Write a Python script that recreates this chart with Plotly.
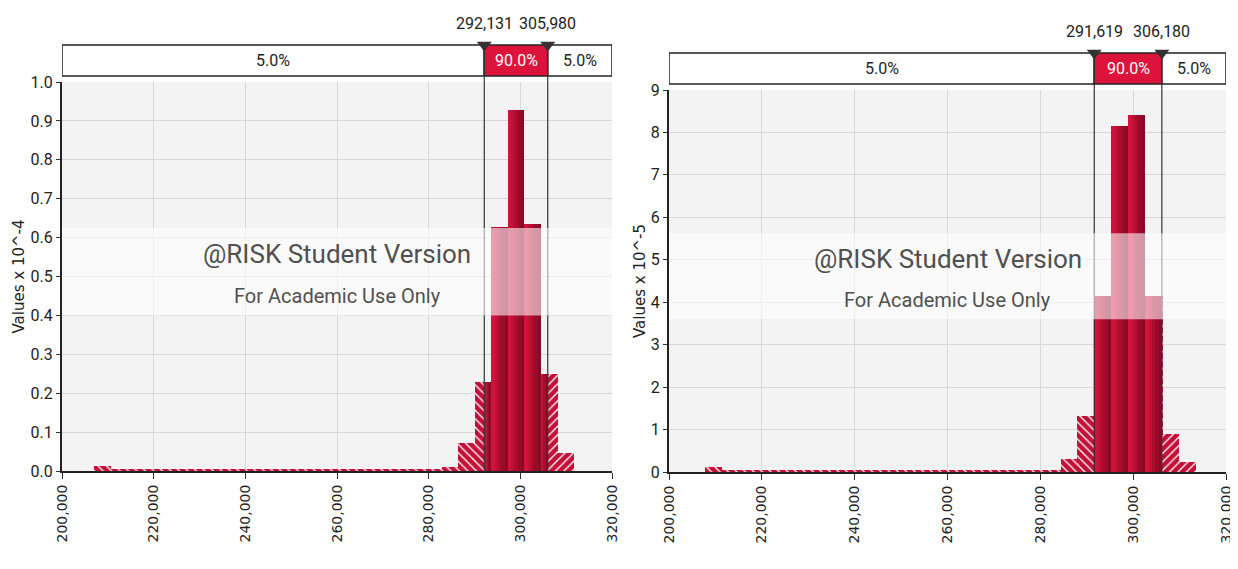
import plotly.graph_objects as go

# ---------------- data ----------------
x_ticks = [200000, 220000, 240000, 260000, 280000, 300000, 320000]

# left histogram (density, values x 10^-4)
left_bin_start = 207030
left_bin_width = 3610
left_density = [0.012, 0.004, 0.004, 0.004, 0.004, 0.004, 0.004, 0.004, 0.004, 0.004,
                0.004, 0.004, 0.004, 0.004, 0.004, 0.004, 0.004, 0.004, 0.004, 0.004,
                0.004, 0.010, 0.072, 0.230, 0.626, 0.928, 0.635, 0.250, 0.046]
left_p5, left_p95 = 292131, 305980
left_y_ticks = [0.0, 0.1, 0.2, 0.3, 0.4, 0.5, 0.6, 0.7, 0.8, 0.9, 1.0]

# right histogram (density, values x 10^-5)
right_bin_start = 207700
right_bin_width = 3650
right_density = [0.11, 0.05, 0.05, 0.05, 0.05, 0.05, 0.05, 0.05, 0.05, 0.05,
                 0.05, 0.05, 0.05, 0.05, 0.05, 0.05, 0.05, 0.05, 0.05, 0.05,
                 0.05, 0.31, 1.32, 4.15, 8.16, 8.40, 4.15, 0.90, 0.23]
right_p5, right_p95 = 291619, 306180
right_y_ticks = [0, 1, 2, 3, 4, 5, 6, 7, 8, 9]

pct_labels = ["5.0%", "90.0%", "5.0%"]

# ---------------- styling ----------------
W, H = 1238, 569
OFF = 8  # default page margin of the html body
NARROW = "Roboto, Liberation Sans, sans-serif"
WIDE = "DejaVu Sans, Verdana, sans-serif"
RED = "#dc143c"
HATCH_RED = "#c41038"
GRAD = ["#d0123c", "#c01034", "#aa0d2e", "#980b29", "#880a24"]

panels = [
    dict(xa="x", ya="y", xb="x3", ba="y3", start=left_bin_start, width=left_bin_width,
         dens=left_density, p5=left_p5, p95=left_p95, yticks=left_y_ticks,
         ymax=1.0, yfmt=".1f", title="Values x 10^-4",
         px=(62, 612), py=(82, 471), box=(45, 76)),
    dict(xa="x2", ya="y2", xb="x4", ba="y4", start=right_bin_start,
         width=right_bin_width,
         dens=right_density, p5=right_p5, p95=right_p95, yticks=right_y_ticks,
         ymax=9, yfmt="d", title="Values x 10^-5",
         px=(669, 1226), py=(90, 472), box=(53, 84)),
]

fig = go.Figure()
shapes, annotations = [], []
layout_axes = {}


def pdom(px):
    return [(px[0] - OFF) / W, (px[1] - OFF) / W]


def py2paper(y):
    return 1 - (y - OFF) / H


def ydom(py):
    return [py2paper(py[1]), py2paper(py[0])]


for k, p in enumerate(panels):
    edges = [p["start"] + p["width"] * i for i in range(len(p["dens"]) + 1)]
    hl, sol, hr = [], [], []
    for i, d in enumerate(p["dens"]):
        a, b = edges[i], edges[i + 1]
        if a < p["p5"]:
            hl.append((a, min(b, p["p5"]), d))
        lo, hi = max(a, p["p5"]), min(b, p["p95"])
        if hi > lo:
            sol.append((lo, hi, d))
        if b > p["p95"]:
            hr.append((max(a, p["p95"]), b, d))

    # hatched tails
    for segs, shp in ((hl, "\\"), (hr, "/")):
        fig.add_trace(go.Bar(
            x=[(a + b) / 2 for a, b, d in segs], y=[d for a, b, d in segs],
            width=[b - a for a, b, d in segs],
            marker=dict(color=HATCH_RED, line=dict(width=0),
                        pattern=dict(shape=shp, fgcolor="white", bgcolor=HATCH_RED,
                                     size=6, solidity=0.22, fillmode="replace")),
            xaxis=p["xa"], yaxis=p["ya"], showlegend=False, hoverinfo="skip"))
    # solid center with left-to-right shading
    n = len(GRAD)
    for j, c in enumerate(GRAD):
        xs, ys, ws = [], [], []
        for a, b, d in sol:
            w = (b - a) / n
            xs.append(a + w * (j + 0.5))
            ys.append(d)
            ws.append(w)
        fig.add_trace(go.Bar(x=xs, y=ys, width=ws,
                             marker=dict(color=c, line=dict(width=0)),
                             xaxis=p["xa"], yaxis=p["ya"], showlegend=False,
                             hoverinfo="skip"))

    # triangles on the percentile bar
    fig.add_trace(go.Scatter(
        x=[p["p5"], p["p95"]], y=[1.0, 1.0], mode="markers",
        marker=dict(symbol="triangle-down", size=13, color="#333333",
                    line=dict(width=0)),
        xaxis=p["xb"], yaxis=p["ba"], showlegend=False, hoverinfo="skip",
        cliponaxis=False))

    xname = "xaxis" if k == 0 else "xaxis2"
    yname = "yaxis" if k == 0 else "yaxis2"
    xbname = "xaxis3" if k == 0 else "xaxis4"
    bname = "yaxis3" if k == 0 else "yaxis4"
    layout_axes[xname] = dict(
        domain=pdom(p["px"]), anchor=p["ya"], range=[x_ticks[0], x_ticks[-1]],
        tickvals=x_ticks, ticktext=[f"{v:,}" for v in x_ticks], tickangle=-90,
        showgrid=True, gridcolor="#d8d8d8", gridwidth=1, zeroline=False,
        showline=True, linecolor="#222222", linewidth=2, automargin=False,
        ticks="outside", ticklen=6, tickcolor="#333333",
        tickfont=dict(family=WIDE, size=14, color="#222222"))
    layout_axes[yname] = dict(
        domain=ydom(p["py"]), anchor=p["xa"], range=[0, p["ymax"]],
        tickvals=p["yticks"], tickformat=p["yfmt"],
        showgrid=True, gridcolor="#d8d8d8", gridwidth=1, zeroline=False,
        showline=True, linecolor="#222222", linewidth=2, automargin=False,
        ticks="outside", ticklen=4, tickcolor="#333333",
        tickfont=dict(family=NARROW, size=16, color="#222222"),
        title=dict(text=p["title"], font=dict(family=WIDE, size=15, color="#222222"),
                   standoff=2))
    layout_axes[xbname] = dict(domain=pdom(p["px"]), anchor=p["ba"],
                               range=[x_ticks[0], x_ticks[-1]], visible=False,
                               showgrid=False, automargin=False)
    layout_axes[bname] = dict(domain=ydom(p["box"]), anchor=p["xb"], range=[0, 1],
                              visible=False, showgrid=False, automargin=False)

    xref = p["xa"]
    yref = p["ya"]
    # plot background
    shapes.append(dict(type="rect", xref=f"{xref} domain", yref=f"{yref} domain",
                       x0=0, x1=1, y0=0, y1=1, fillcolor="#f3f3f3",
                       line=dict(width=0), layer="below"))
    # percentile box
    b0, b1 = py2paper(p["box"][1]), py2paper(p["box"][0])
    seg = [(x_ticks[0], p["p5"], "white"), (p["p5"], p["p95"], RED),
           (p["p95"], x_ticks[-1], "white")]
    for (s0, s1, fc), lab in zip(seg, pct_labels):
        shapes.append(dict(type="rect", xref=xref, yref="paper", x0=s0, x1=s1,
                           y0=b0, y1=b1, fillcolor=fc,
                           line=dict(color="#222222", width=1.5), layer="below"))
        annotations.append(dict(x=(s0 + s1) / 2, y=(b0 + b1) / 2, xref=xref,
                                yref="paper", yanchor="middle", text=lab,
                                showarrow=False,
                                font=dict(family=NARROW, size=16,
                                          color="white" if fc == RED else "#222222")))
    # vertical percentile lines
    for v in (p["p5"], p["p95"]):
        shapes.append(dict(type="line", xref=xref, yref="paper", x0=v, x1=v,
                           y0=py2paper(p["py"][1]), y1=b1,
                           line=dict(color="#333333", width=1.2), layer="above"))
        annotations.append(dict(x=v, y=py2paper(p["box"][0] - 22), xref=xref,
                                yref="paper", yanchor="middle", text=f"{v:,}",
                                showarrow=False,
                                font=dict(family=NARROW, size=16, color="#222222")))
    # watermark band
    shapes.append(dict(type="rect", xref=f"{xref} domain", yref=f"{yref} domain",
                       x0=0, x1=1, y0=0.40, y1=0.625,
                       fillcolor="rgba(255,255,255,0.58)", line=dict(width=0),
                       layer="above"))
    annotations.append(dict(x=0.5, y=0.558, xref=f"{xref} domain",
                            yref=f"{yref} domain", text="@RISK Student Version",
                            showarrow=False,
                            font=dict(family=NARROW, size=26, color="#505050")))
    annotations.append(dict(x=0.5, y=0.45, xref=f"{xref} domain",
                            yref=f"{yref} domain", text="For Academic Use Only",
                            showarrow=False,
                            font=dict(family=NARROW, size=20, color="#505050")))

fig.update_layout(
    width=W, height=H, margin=dict(l=0, r=0, t=0, b=0, autoexpand=False),
    paper_bgcolor="white", plot_bgcolor="rgba(0,0,0,0)",
    barmode="overlay", bargap=0, showlegend=False,
    shapes=shapes, annotations=annotations, **layout_axes)

fig.write_html("out.html")
